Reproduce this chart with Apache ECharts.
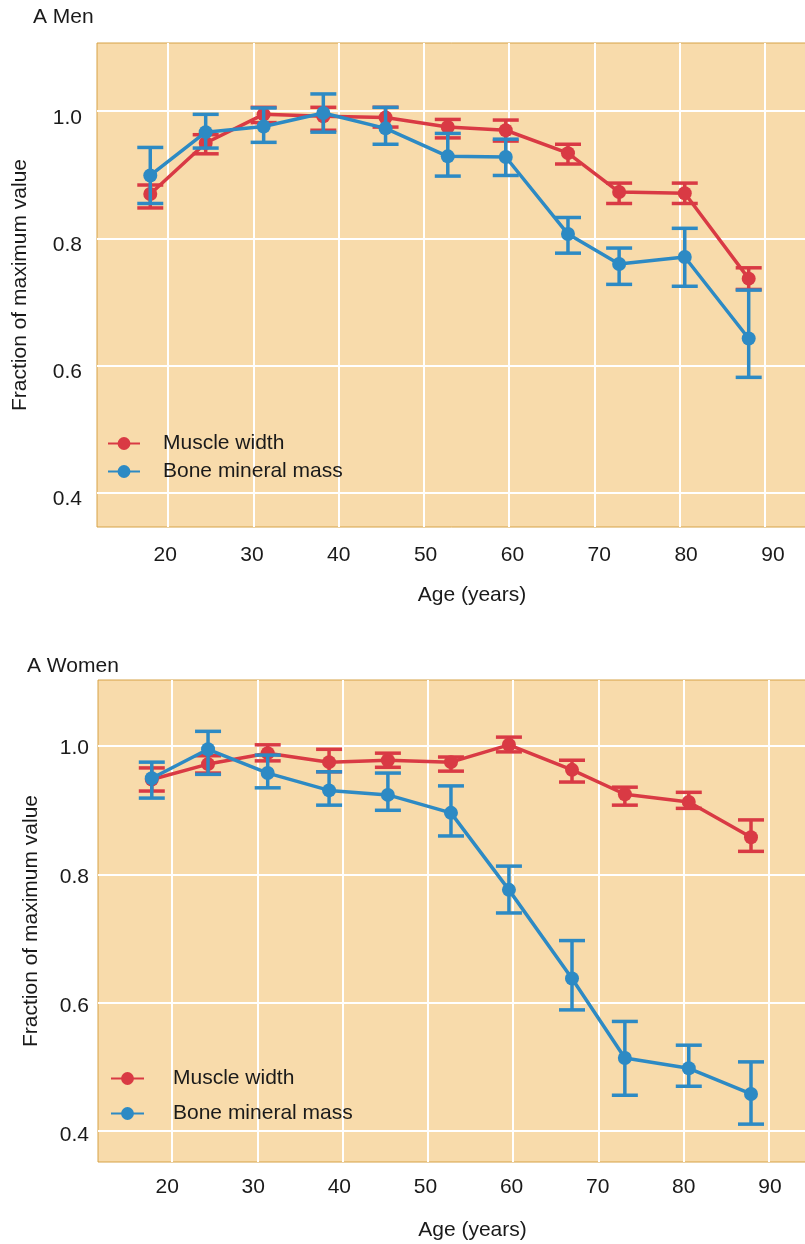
<!DOCTYPE html>
<html>
<head>
<meta charset="utf-8">
<script src="https://cdn.jsdelivr.net/npm/echarts@6/dist/echarts.min.js"></script>
<style>
  html, body { margin: 0; padding: 0; background: #fff; }
  #chart { width: 805px; height: 1244px; }
</style>
</head>
<body>
<div id="chart"></div>
<script>
// ages (years) and values
const ageMen = [17.9, 24.4, 31.2, 38.2, 45.5, 52.8, 59.6, 66.9, 72.9, 80.6, 88.1];
const menMuscle = [0.870, 0.950, 0.995, 0.992, 0.990, 0.975, 0.970, 0.934, 0.873, 0.871, 0.737];
const menMuscleLow = [0.848, 0.933, 0.982, 0.970, 0.975, 0.958, 0.953, 0.917, 0.855, 0.855, 0.720];
const menMuscleHigh = [0.884, 0.963, 1.006, 1.006, 1.006, 0.987, 0.986, 0.948, 0.887, 0.887, 0.754];
const menBone = [0.899, 0.967, 0.976, 0.997, 0.973, 0.929, 0.928, 0.807, 0.760, 0.771, 0.643];
const menBoneLow = [0.855, 0.942, 0.951, 0.967, 0.948, 0.898, 0.899, 0.777, 0.728, 0.725, 0.582];
const menBoneHigh = [0.943, 0.995, 1.005, 1.027, 1.006, 0.965, 0.956, 0.833, 0.785, 0.816, 0.719];

const ageWomen = [17.6, 24.2, 31.2, 38.4, 45.3, 52.7, 59.5, 66.9, 73.1, 80.6, 87.9];
const womenMuscle = [0.948, 0.972, 0.989, 0.975, 0.978, 0.975, 1.002, 0.963, 0.925, 0.913, 0.858];
const womenMuscleLow = [0.930, 0.958, 0.977, 0.960, 0.967, 0.961, 0.991, 0.944, 0.908, 0.903, 0.836];
const womenMuscleHigh = [0.966, 0.985, 1.002, 0.995, 0.989, 0.983, 1.014, 0.978, 0.936, 0.928, 0.885];
const womenBone = [0.950, 0.995, 0.958, 0.931, 0.924, 0.896, 0.776, 0.638, 0.514, 0.498, 0.458];
const womenBoneLow = [0.919, 0.956, 0.935, 0.908, 0.900, 0.860, 0.740, 0.589, 0.456, 0.470, 0.411];
const womenBoneHigh = [0.975, 1.023, 0.986, 0.960, 0.958, 0.938, 0.813, 0.697, 0.571, 0.534, 0.508];

const xTicks = [20, 30, 40, 50, 60, 70, 80, 90];
const yTicks = [0.4, 0.6, 0.8, 1.0];

const RED = '#d93a44';
const BLUE = '#2d8ac4';
const INK = '#1a1a1a';
const FONT = 'Liberation Sans, Arial, sans-serif';

let chart = echarts.init(document.getElementById('chart'));

// error bar: vertical stroke + caps
errorBars = (color) => {
	return function(params, api) {
		let top = api.coord([api.value(0), api.value(2)]);
		let bot = api.coord([api.value(0), api.value(1)]);
		let half = 13;
		let style = { stroke: color, lineWidth: 3.5 };
		return {
			type: 'group',
			children: [
				{ type: 'line', shape: { x1: top[0], y1: top[1], x2: bot[0], y2: bot[1] }, style: style },
				{ type: 'line', shape: { x1: top[0] - half, y1: top[1], x2: top[0] + half, y2: top[1] }, style: style },
				{ type: 'line', shape: { x1: bot[0] - half, y1: bot[1], x2: bot[0] + half, y2: bot[1] }, style: style }
			]
		};
	};
}

let zip = (a, b) => a.map((v, i) => [v, b[i]]);
let zip3 = (a, b, c) => a.map((v, i) => [v, b[i], c[i]]);

// axes that carry the white grid lines and the data
let xGridAxis = (gi, min, max) => ({
	type: 'value', gridIndex: gi, min: min, max: max,
	axisLine: { show: false },
	axisTick: { show: false, customValues: xTicks },
	axisLabel: { show: false, customValues: xTicks },
	splitLine: { show: true, lineStyle: { color: '#ffffff', width: 2 } }
});

let yGridAxis = (gi, min, max) => ({
	type: 'value', gridIndex: gi, min: min, max: max,
	axisLine: { show: false },
	axisTick: { show: false, customValues: yTicks },
	axisLabel: { show: false, customValues: yTicks },
	splitLine: { show: true, lineStyle: { color: '#ffffff', width: 2 } }
});

// axes that only carry tick labels and names (the printed labels sit a little off the grid lines)
let xLabelAxis = (gi, min, max, margin, nameGap) => ({
	type: 'value', gridIndex: gi, min: min, max: max, position: 'bottom',
	name: 'Age (years)',
	nameLocation: 'middle',
	nameGap: nameGap,
	nameTextStyle: { color: INK, fontSize: 21, fontFamily: FONT, padding: [0, 0, 0, 40] },
	axisLine: { show: false },
	axisTick: { show: false, customValues: xTicks },
	axisLabel: { customValues: xTicks, color: INK, fontSize: 21, fontFamily: FONT, margin: margin },
	splitLine: { show: false }
});

let yLabelAxis = (gi, min, max, nameGap, margin) => ({
	type: 'value', gridIndex: gi, min: min, max: max, position: 'left',
	name: 'Fraction of maximum value',
	nameLocation: 'middle',
	nameGap: nameGap,
	nameTextStyle: { color: INK, fontSize: 21, fontFamily: FONT },
	axisLine: { show: false },
	axisTick: { show: false, customValues: yTicks },
	axisLabel: {
		customValues: yTicks,
		color: INK, fontSize: 21, fontFamily: FONT, margin: margin,
		formatter: v => v.toFixed(1)
	},
	splitLine: { show: false }
});

let panelSeries = (gi, ages, mus, musLo, musHi, bone, boneLo, boneHi) => [
	{
		name: 'Muscle width error', type: 'custom', xAxisIndex: gi, yAxisIndex: gi, z: 2,
		renderItem: errorBars(RED), encode: { x: 0, y: [1, 2] },
		data: zip3(ages, musLo, musHi), silent: true
	},
	{
		name: 'Muscle width', type: 'line', xAxisIndex: gi, yAxisIndex: gi, z: 3,
		symbol: 'circle', symbolSize: 14, color: RED,
		lineStyle: { width: 3.5, color: RED }, itemStyle: { color: RED },
		data: zip(ages, mus)
	},
	{
		name: 'Bone mineral mass error', type: 'custom', xAxisIndex: gi, yAxisIndex: gi, z: 4,
		renderItem: errorBars(BLUE), encode: { x: 0, y: [1, 2] },
		data: zip3(ages, boneLo, boneHi), silent: true
	},
	{
		name: 'Bone mineral mass', type: 'line', xAxisIndex: gi, yAxisIndex: gi, z: 5,
		symbol: 'circle', symbolSize: 14, color: BLUE,
		lineStyle: { width: 3.5, color: BLUE }, itemStyle: { color: BLUE },
		data: zip(ages, bone)
	}
];

let option = {
	backgroundColor: '#ffffff',
	animation: false,
	title: [
		{ text: 'A Men', left: 33, top: 7, padding: 0, textStyle: { color: INK, fontSize: 21, fontWeight: 'normal', fontFamily: FONT } },
		{ text: 'A Women', left: 27, top: 656, padding: 0, textStyle: { color: INK, fontSize: 21, fontWeight: 'normal', fontFamily: FONT } }
	],
	grid: [
		{ left: 97, top: 43, right: -2, height: 484, outerBoundsMode: 'none', containLabel: false,
		  show: true, backgroundColor: '#f8dbab', borderColor: '#d6a246', borderWidth: 1 },
		{ left: 98, top: 680, right: -2, height: 482, outerBoundsMode: 'none', containLabel: false,
		  show: true, backgroundColor: '#f8dbab', borderColor: '#d6a246', borderWidth: 1 }
	],
	legend: [
		{
			orient: 'vertical', left: 107, top: 433, itemWidth: 32, itemHeight: 16, itemGap: 7,
			padding: 0,
			textStyle: { color: INK, fontSize: 21, fontFamily: FONT, padding: [0, 0, 0, 18] },
			data: ['Muscle width', 'Bone mineral mass'], selectedMode: false
		},
		{
			orient: 'vertical', left: 110, top: 1068, itemWidth: 33, itemHeight: 16, itemGap: 14,
			padding: 0,
			textStyle: { color: INK, fontSize: 21, fontFamily: FONT, padding: [0, 0, 0, 24] },
			data: ['Muscle width', 'Bone mineral mass'], selectedMode: false
		}
	],
	xAxis: [
		xGridAxis(0, 11.65, 94.94),
		xGridAxis(1, 11.29, 94.47),
		xLabelAxis(0, 12.15, 93.93, 18, 58),
		xLabelAxis(1, 11.97, 94.31, 15, 58)
	],
	yAxis: [
		yGridAxis(0, 0.347, 1.107),
		yGridAxis(1, 0.352, 1.103),
		yLabelAxis(0, 0.356, 1.118, 66, 15),
		yLabelAxis(1, 0.358, 1.105, 56, 9)
	],
	series: [].concat(
		panelSeries(0, ageMen, menMuscle, menMuscleLow, menMuscleHigh, menBone, menBoneLow, menBoneHigh),
		panelSeries(1, ageWomen, womenMuscle, womenMuscleLow, womenMuscleHigh, womenBone, womenBoneLow, womenBoneHigh)
	)
};

chart.setOption(option);
</script>
</body>
</html>
